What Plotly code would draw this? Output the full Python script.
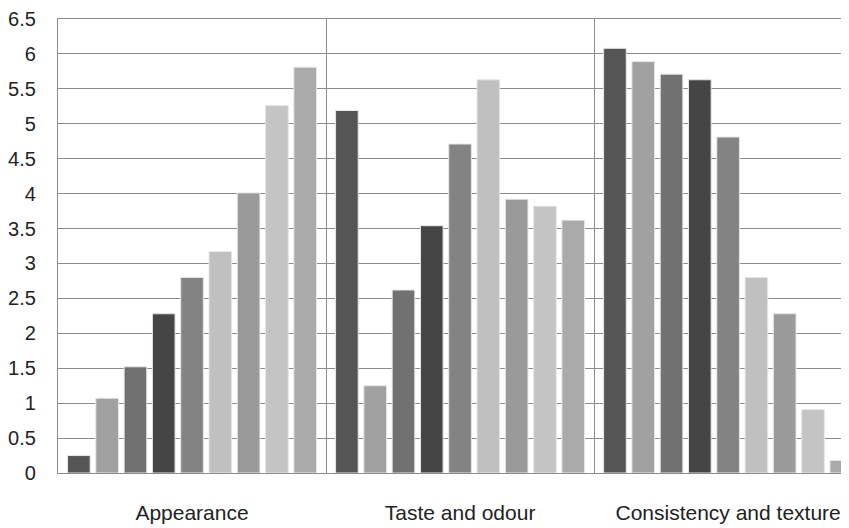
import plotly.graph_objects as go

categories = ["Appearance", "Taste and odour", "Consistency and texture"]

s1 = [0.25, 5.19, 6.08]
s2 = [1.07, 1.25, 5.89]
s3 = [1.52, 2.62, 5.71]
s4 = [2.28, 3.54, 5.63]
s5 = [2.80, 4.71, 4.81]
s6 = [3.17, 5.63, 2.80]
s7 = [4.01, 3.92, 2.28]
s8 = [5.26, 3.82, 0.91]
s9 = [5.81, 3.62, 0.18]

series = [s1, s2, s3, s4, s5, s6, s7, s8, s9]
colors = ["#555555", "#a0a0a0", "#717171", "#454545", "#838383",
          "#c0c0c0", "#9a9a9a", "#c4c4c4", "#aaaaaa"]

fig = go.Figure()
for i, (vals, col) in enumerate(zip(series, colors)):
    fig.add_trace(go.Bar(
        x=categories, y=vals, name=f"S{i+1}",
        marker=dict(color=col, line=dict(color="#e6e6e6", width=1)),
        showlegend=False,
    ))

font_family = "Liberation Sans, Arial, sans-serif"
grid = "#8c8c8c"

# page body has an 8px default margin, so the figure is sized to 841x520
fig.update_layout(
    width=841, height=520,
    margin=dict(l=50, r=0, t=11, b=55, autoexpand=False),
    paper_bgcolor="white", plot_bgcolor="white",
    barmode="group", bargap=0.05, bargroupgap=0.2,
    font=dict(family=font_family, size=20, color="#222222"),
    xaxis=dict(
        type="category",
        range=[-0.5, 2.451],
        tickson="boundaries",
        showgrid=True, gridcolor=grid, gridwidth=1.3,
        ticks="", ticklabelstandoff=21,
        showline=True, linecolor=grid, linewidth=1.3, mirror=True,
        zeroline=False, automargin=False, ticklabeloverflow="allow",
        tickfont=dict(family=font_family, size=21, color="#222222"),
    ),
    yaxis=dict(
        range=[0, 6.5],
        tickmode="array",
        tickvals=[i * 0.5 for i in range(14)],
        ticktext=["0", "0.5", "1", "1.5", "2", "2.5", "3", "3.5", "4", "4.5",
                  "5", "5.5", "6", "6.5"],
        showgrid=True, gridcolor=grid, gridwidth=1.3,
        showline=True, linecolor=grid, linewidth=1.3, mirror=False,
        zeroline=False, automargin=False, ticklabeloverflow="allow",
        ticks="", ticklabelstandoff=17,
        tickfont=dict(family=font_family, size=20, color="#222222"),
    ),
)

fig.write_html("out.html")
